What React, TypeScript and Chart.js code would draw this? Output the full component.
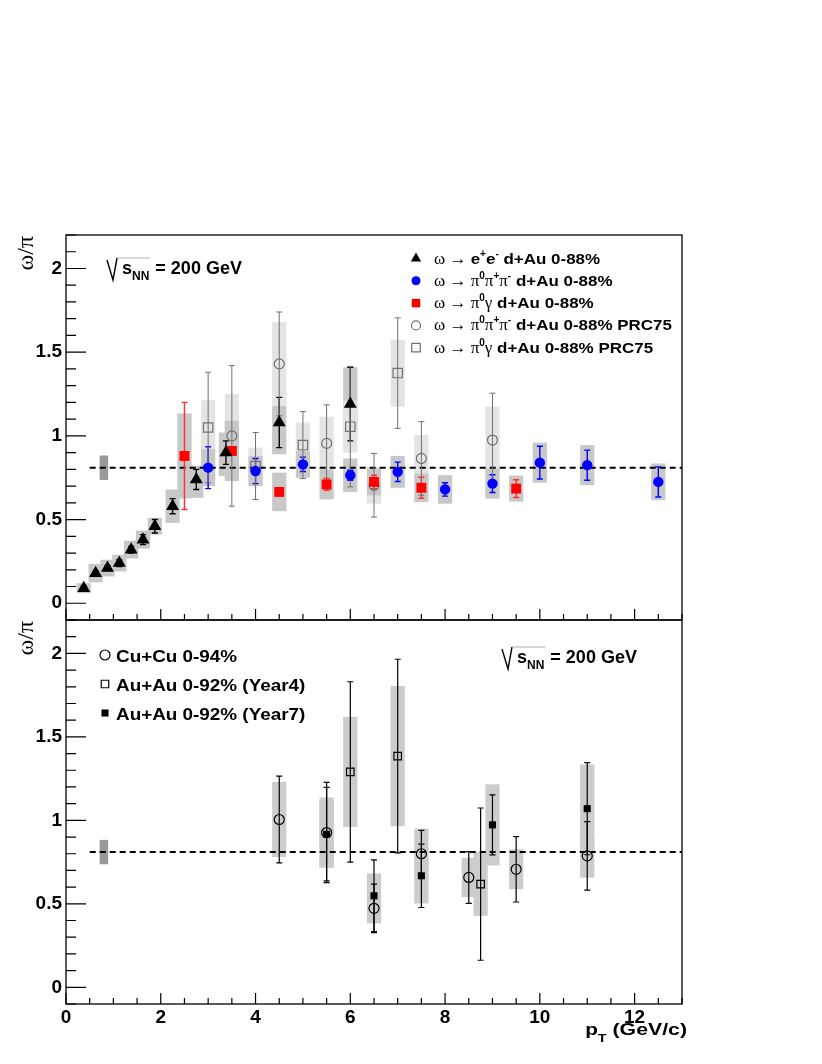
import React, { useEffect, useRef } from "react";
import { Chart, registerables } from "chart.js";

Chart.register(...registerables);

// ---------- top panel: d+Au 0-88% ----------
// omega -> e+e- (black triangles)
const eePt = [0.375, 0.625, 0.875, 1.125, 1.375, 1.625, 1.875, 2.25, 2.75, 3.375, 4.5, 6.0];
const eeRatio = [0.09, 0.18, 0.21, 0.24, 0.32, 0.38, 0.46, 0.58, 0.74, 0.9, 1.08, 1.19];
const eeStat = [0.015, 0.015, 0.015, 0.02, 0.02, 0.03, 0.04, 0.045, 0.06, 0.07, 0.15, 0.22];
const eeSysLo = [0.03, 0.055, 0.05, 0.05, 0.053, 0.054, 0.05, 0.1, 0.11, 0.14, 0.19, 0.2];
const eeSysHi = [0.03, 0.055, 0.05, 0.05, 0.053, 0.054, 0.05, 0.1, 0.08, 0.12, 0.1, 0.22];

// omega -> pi0 pi+ pi- (blue circles)
const pppPt = [3, 4, 5, 6, 7, 8, 9, 10, 11, 12.5];
const pppRatio = [0.81, 0.79, 0.83, 0.765, 0.785, 0.68, 0.715, 0.84, 0.825, 0.725];
const pppStat = [0.125, 0.075, 0.043, 0.03, 0.058, 0.04, 0.053, 0.098, 0.09, 0.09];
const pppSys = [0.11, 0.09, 0.08, 0.1, 0.095, 0.085, 0.09, 0.12, 0.12, 0.11];

// omega -> pi0 gamma (red squares)
const pgPt = [2.5, 3.5, 4.5, 5.5, 6.5, 7.5, 9.5];
const pgRatio = [0.88, 0.91, 0.665, 0.71, 0.725, 0.69, 0.685];
const pgStat = [0.32, 0.02, 0.02, 0.035, 0.04, 0.063, 0.053];
const pgSys = [0.254, 0.18, 0.115, 0.09, 0.08, 0.085, 0.078];

// PRC75 pi0 pi+ pi- (grey open circles)
const pppOldPt = [3.5, 4.5, 5.5, 6.5, 7.5, 9];
const pppOldRatio = [1.0, 1.43, 0.955, 0.705, 0.865, 0.975];
const pppOldStat = [0.42, 0.31, 0.23, 0.19, 0.22, 0.28];
const pppOldSys = [0.25, 0.25, 0.16, 0.11, 0.14, 0.2];

// PRC75 pi0 gamma (grey open squares)
const pgOldPt = [3, 4, 5, 6, 7];
const pgOldRatio = [1.05, 0.82, 0.945, 1.055, 1.375];
const pgOldStat = [0.33, 0.2, 0.2, 0.36, 0.33];
const pgOldSys = [0.163, 0.11, 0.135, 0.155, 0.2];

// ---------- bottom panel: heavy ions ----------
const cuPt = [4.5, 5.5, 6.5, 7.5, 8.5, 9.5, 11];
const cuRatio = [1.005, 0.927, 0.473, 0.8, 0.658, 0.707, 0.787];
const cuStat = [0.26, 0.3, 0.145, 0.14, 0.155, 0.196, 0.205];
const cuSys = [0.225, 0.21, 0.09, 0.15, 0.118, 0.12, 0.13];

const au4Pt = [6, 7, 8.75];
const au4Ratio = [1.29, 1.385, 0.618];
const au4Stat = [0.54, 0.58, 0.456];
const au4Sys = [0.33, 0.42, 0.19];

const au7Pt = [5.5, 6.5, 7.5, 9, 11];
const au7Ratio = [0.917, 0.548, 0.668, 0.973, 1.07];
const au7Stat = [0.28, 0.215, 0.19, 0.18, 0.276];
const au7Sys = [0.2, 0.134, 0.166, 0.243, 0.265];

// reference level and its normalisation uncertainty
const refRatio = 0.81;
const refStartPt = 0.5;
const normPt = 0.8;
const normErr = 0.073;

// axes
const xTickValues = [0, 2, 4, 6, 8, 10, 12];
const yTickValues = [0, 0.5, 1, 1.5, 2];
const xRange = [0, 13];
const yRange = [-0.1, 2.2];

const SANS = '"Liberation Sans", Arial, Helvetica, sans-serif';
const SERIF = '"Liberation Serif", "DejaVu Serif", serif';
const BOX_HW = 0.15;
const DARK_BOX = "#c8c8c8";
const LIGHT_BOX = "#e4e4e4";
const BOTTOM_BOX = "#cccccc";
const GREY = "#707070";

function series(
  label: string,
  pts: number[],
  vals: number[],
  stat: number[],
  sysLo: number[],
  sysHi: number[],
  look: any
) {
  return {
    label,
    data: pts.map((x, i) => ({ x, y: vals[i] })),
    stat,
    sysLo,
    sysHi,
    showLine: false,
    ...look,
  };
}

function drawUnder(chart: any) {
  const { ctx, chartArea: a } = chart;
  const xs = chart.scales.x;
  const ys = chart.scales.y;
  ctx.save();
  ctx.beginPath();
  ctx.rect(a.left, a.top, a.right - a.left, a.bottom - a.top);
  ctx.clip();

  // systematic boxes, layered
  const sets = chart.data.datasets.slice().sort((p: any, q: any) => p.boxLayer - q.boxLayer);
  sets.forEach((ds: any) => {
    ctx.fillStyle = ds.boxFill;
    ds.data.forEach((p: any, i: number) => {
      const l = xs.getPixelForValue(p.x - BOX_HW);
      const r = xs.getPixelForValue(p.x + BOX_HW);
      const t = ys.getPixelForValue(p.y + ds.sysHi[i]);
      const b = ys.getPixelForValue(p.y - ds.sysLo[i]);
      ctx.fillRect(l, t, r - l, b - t);
    });
  });

  // normalisation box
  ctx.fillStyle = "#999999";
  {
    const l = xs.getPixelForValue(normPt - 0.09);
    const r = xs.getPixelForValue(normPt + 0.09);
    const t = ys.getPixelForValue(refRatio + normErr);
    const b = ys.getPixelForValue(refRatio - normErr);
    ctx.fillRect(l, t, r - l, b - t);
  }

  // reference line
  ctx.strokeStyle = "#000";
  ctx.lineWidth = 2;
  ctx.setLineDash([6, 4]);
  ctx.beginPath();
  const yr = ys.getPixelForValue(refRatio);
  ctx.moveTo(xs.getPixelForValue(refStartPt), yr);
  ctx.lineTo(a.right, yr);
  ctx.stroke();
  ctx.setLineDash([]);

  // statistical error bars
  chart.data.datasets.forEach((ds: any) => {
    ctx.strokeStyle = ds.errColor;
    ctx.lineWidth = ds.errWidth;
    ctx.beginPath();
    ds.data.forEach((p: any, i: number) => {
      const px = xs.getPixelForValue(p.x);
      const t = ys.getPixelForValue(p.y + ds.stat[i]);
      const b = ys.getPixelForValue(p.y - ds.stat[i]);
      ctx.moveTo(px, t);
      ctx.lineTo(px, b);
      ctx.moveTo(px - 3, t);
      ctx.lineTo(px + 3, t);
      ctx.moveTo(px - 3, b);
      ctx.lineTo(px + 3, b);
    });
    ctx.stroke();
  });
  ctx.restore();
}

function drawFrame(chart: any) {
  const { ctx, chartArea: a } = chart;
  const xs = chart.scales.x;
  const ys = chart.scales.y;
  ctx.save();
  ctx.strokeStyle = "#000";
  ctx.lineWidth = 1.3;
  ctx.strokeRect(a.left, a.top, a.right - a.left, a.bottom - a.top);
  ctx.lineWidth = 1.2;
  ctx.beginPath();
  for (let k = -1; k <= 22; k++) {
    const py = ys.getPixelForValue(k / 10);
    const len = k % 5 === 0 ? 20 : 10;
    ctx.moveTo(a.left, py);
    ctx.lineTo(a.left + len, py);
  }
  for (let k = 0; k <= 26; k++) {
    const px = xs.getPixelForValue(k / 2);
    const len = k % 4 === 0 ? 11 : 6;
    ctx.moveTo(px, a.bottom);
    ctx.lineTo(px, a.bottom - len);
  }
  ctx.stroke();

  // y title
  ctx.save();
  ctx.translate(a.left - 33, a.top + 1);
  ctx.rotate(-Math.PI / 2);
  ctx.font = `24px ${SERIF}`;
  ctx.fillStyle = "#000";
  ctx.textAlign = "right";
  ctx.textBaseline = "alphabetic";
  ctx.fillText("ω/π", 0, 0);
  ctx.restore();
  ctx.restore();
}

type Seg = { t: string; size: number; serif?: boolean; dy?: number; sx?: number };

function drawRich(ctx: CanvasRenderingContext2D, x: number, y: number, segs: Seg[]) {
  let cx = x;
  ctx.textAlign = "left";
  ctx.textBaseline = "alphabetic";
  ctx.fillStyle = "#000";
  for (const s of segs) {
    const sx = s.sx || 1;
    ctx.font = s.serif ? `${s.size}px ${SERIF}` : `bold ${s.size}px ${SANS}`;
    ctx.save();
    ctx.translate(cx, y + (s.dy || 0));
    ctx.scale(sx, 1);
    ctx.fillText(s.t, 0, 0);
    ctx.restore();
    cx += ctx.measureText(s.t).width * sx;
  }
  return cx;
}

function richWidth(ctx: CanvasRenderingContext2D, segs: Seg[]) {
  let w = 0;
  for (const s of segs) {
    ctx.font = s.serif ? `${s.size}px ${SERIF}` : `bold ${s.size}px ${SANS}`;
    w += ctx.measureText(s.t).width * (s.sx || 1);
  }
  return w;
}

function drawSqrtS(ctx: CanvasRenderingContext2D, x: number, b: number) {
  ctx.save();
  ctx.strokeStyle = "#000";
  ctx.lineWidth = 1.4;
  ctx.beginPath();
  ctx.moveTo(x, b - 14);
  ctx.lineTo(x + 6, b + 6);
  ctx.lineTo(x + 10, b - 16);
  ctx.stroke();
  let cx = drawRich(ctx, x + 15, b, [{ t: "s", size: 18 }]);
  cx = drawRich(ctx, cx, b, [{ t: "NN", size: 12, dy: 6 }]);
  ctx.strokeStyle = "#999";
  ctx.lineWidth = 0.8;
  ctx.beginPath();
  ctx.moveTo(x + 10, b - 16);
  ctx.lineTo(cx + 1, b - 16);
  ctx.stroke();
  drawRich(ctx, cx + 1, b, [{ t: " = 200 GeV", size: 18 }]);
  ctx.restore();
}

function drawMarker(
  ctx: CanvasRenderingContext2D,
  style: string,
  x: number,
  y: number,
  r: number,
  fill: string | null,
  stroke: string | null
) {
  ctx.beginPath();
  if (style === "circle") ctx.arc(x, y, r, 0, Math.PI * 2);
  else if (style === "rect") {
    const s = r * Math.SQRT1_2;
    ctx.rect(x - s, y - s, 2 * s, 2 * s);
  } else {
    ctx.moveTo(x, y - r);
    ctx.lineTo(x + r * 0.866, y + r / 2);
    ctx.lineTo(x - r * 0.866, y + r / 2);
    ctx.closePath();
  }
  if (fill) {
    ctx.fillStyle = fill;
    ctx.fill();
  }
  if (stroke) {
    ctx.strokeStyle = stroke;
    ctx.lineWidth = 1.2;
    ctx.stroke();
  }
}

const sym = (t: string): Seg => ({ t, size: 17, serif: true });
const txt = (t: string): Seg => ({ t, size: 14.5, sx: 1.17 });
const sup = (t: string): Seg => ({ t, size: 10, dy: -7 });
const arrow = sym("ω → ");
const threePi = [sym("π"), sup("0"), sym("π"), sup("+"), sym("π"), sup("-")];
const piGamma = [sym("π"), sup("0"), sym("γ")];

const topLegend = [
  { style: "triangle", r: 6, fill: "#000", stroke: null, segs: [arrow, txt("e"), sup("+"), txt("e"), sup("-"), txt(" d+Au 0-88%")] },
  { style: "circle", r: 4.5, fill: "#0000ff", stroke: null, segs: [arrow, ...threePi, txt(" d+Au 0-88%")] },
  { style: "rect", r: 6, fill: "#ff0000", stroke: null, segs: [arrow, ...piGamma, txt(" d+Au 0-88%")] },
  { style: "circle", r: 4.5, fill: null, stroke: GREY, segs: [arrow, ...threePi, txt(" d+Au 0-88% PRC75")] },
  { style: "rect", r: 6, fill: null, stroke: GREY, segs: [arrow, ...piGamma, txt(" d+Au 0-88% PRC75")] },
];

const bottomLegend = [
  { style: "circle", r: 5, fill: null, stroke: "#000", label: "Cu+Cu 0-94%" },
  { style: "rect", r: 5.3, fill: null, stroke: "#000", label: "Au+Au 0-92% (Year4)" },
  { style: "rect", r: 5, fill: "#000", stroke: null, label: "Au+Au 0-92% (Year7)" },
];

const topDecor = {
  id: "topDecor",
  beforeDatasetsDraw: (chart: any) => drawUnder(chart),
  afterDraw: (chart: any) => {
    const { ctx, chartArea: a } = chart;
    drawFrame(chart);
    ctx.save();
    drawSqrtS(ctx, a.left + 41, a.top + 39);
    topLegend.forEach((row, i) => {
      const yb = a.top + 28.5 + i * 22.3;
      drawMarker(ctx, row.style, a.left + 350, yb - 5, row.r, row.fill, row.stroke);
      drawRich(ctx, a.left + 368, yb, row.segs);
    });
    ctx.restore();
  },
};

const bottomDecor = {
  id: "bottomDecor",
  beforeDatasetsDraw: (chart: any) => drawUnder(chart),
  afterDraw: (chart: any) => {
    const { ctx, chartArea: a } = chart;
    drawFrame(chart);
    ctx.save();
    drawSqrtS(ctx, a.left + 436, a.top + 43);
    bottomLegend.forEach((row, i) => {
      const yb = a.top + 41.5 + i * 29;
      drawMarker(ctx, row.style, a.left + 39, yb - 6.5, row.r, row.fill, row.stroke);
      drawRich(ctx, a.left + 50, yb, [{ t: row.label, size: 17, sx: 1.11 }]);
    });
    // x title
    const title: Seg[] = [
      { t: "p", size: 16, sx: 1.3 },
      { t: "T", size: 11, dy: 7, sx: 1.3 },
      { t: " (GeV/c)", size: 16, sx: 1.33 },
    ];
    const w = richWidth(ctx, title);
    drawRich(ctx, a.right + 5 - w, a.bottom + 31, title);
    ctx.restore();
  },
};

function baseOptions(padTop: number, xHeight: number, showXLabels: boolean): any {
  const tickFont = { family: SANS, size: 19, weight: "bold" };
  return {
    animation: false,
    responsive: false,
    events: [],
    layout: { padding: { left: 0, right: 140, top: padTop, bottom: 0 } },
    plugins: { legend: { display: false }, tooltip: { enabled: false } },
    scales: {
      x: {
        type: "linear",
        min: xRange[0],
        max: xRange[1],
        grid: { display: false, drawTicks: false },
        border: { display: false },
        afterBuildTicks: (s: any) => {
          s.ticks = xTickValues.map((v) => ({ value: v }));
        },
        ticks: {
          display: showXLabels,
          padding: 2,
          maxRotation: 0,
          color: "#000",
          font: tickFont,
          callback: (v: any) => String(v),
        },
        afterFit: (s: any) => {
          s.height = xHeight;
        },
      },
      y: {
        type: "linear",
        min: yRange[0],
        max: yRange[1],
        grid: { display: false, drawTicks: false },
        border: { display: false },
        afterBuildTicks: (s: any) => {
          s.ticks = yTickValues.map((v) => ({ value: v }));
        },
        ticks: {
          padding: 4,
          color: "#000",
          font: tickFont,
          callback: (v: any) => String(v),
        },
        afterFit: (s: any) => {
          s.width = 66;
        },
      },
    },
  };
}

function topConfig(): any {
  return {
    type: "scatter",
    data: {
      datasets: [
        series("ω → e+e- d+Au 0-88%", eePt, eeRatio, eeStat, eeSysLo, eeSysHi, {
          pointStyle: "triangle", pointRadius: 7.5, backgroundColor: "#000", borderColor: "#000", borderWidth: 0,
          errColor: "#000", errWidth: 1.4, boxFill: DARK_BOX, boxLayer: 0,
        }),
        series("ω → π0π+π- d+Au 0-88%", pppPt, pppRatio, pppStat, pppSys, pppSys, {
          pointStyle: "circle", pointRadius: 5.2, backgroundColor: "#0000ff", borderColor: "#0000ff", borderWidth: 0,
          errColor: "#0000ff", errWidth: 1.4, boxFill: DARK_BOX, boxLayer: 2,
        }),
        series("ω → π0γ d+Au 0-88%", pgPt, pgRatio, pgStat, pgSys, pgSys, {
          pointStyle: "rect", pointRadius: 7, backgroundColor: "#ff0000", borderColor: "#ff0000", borderWidth: 0,
          errColor: "#ff3030", errWidth: 1.4, boxFill: DARK_BOX, boxLayer: 2,
        }),
        series("ω → π0π+π- d+Au 0-88% PRC75", pppOldPt, pppOldRatio, pppOldStat, pppOldSys, pppOldSys, {
          pointStyle: "circle", pointRadius: 5, backgroundColor: "rgba(0,0,0,0)", borderColor: GREY, borderWidth: 1.2,
          errColor: GREY, errWidth: 1, boxFill: LIGHT_BOX, boxLayer: 1,
        }),
        series("ω → π0γ d+Au 0-88% PRC75", pgOldPt, pgOldRatio, pgOldStat, pgOldSys, pgOldSys, {
          pointStyle: "rect", pointRadius: 6.6, backgroundColor: "rgba(0,0,0,0)", borderColor: GREY, borderWidth: 1.2,
          errColor: GREY, errWidth: 1, boxFill: LIGHT_BOX, boxLayer: 1,
        }),
      ],
    },
    options: baseOptions(235, 20, false),
    plugins: [topDecor],
  };
}

function bottomConfig(): any {
  return {
    type: "scatter",
    data: {
      datasets: [
        series("Au+Au 0-92% (Year7)", au7Pt, au7Ratio, au7Stat, au7Sys, au7Sys, {
          pointStyle: "rect", pointRadius: 5, backgroundColor: "#000", borderColor: "#000", borderWidth: 0,
          errColor: "#000", errWidth: 1.2, boxFill: BOTTOM_BOX, boxLayer: 0,
        }),
        series("Au+Au 0-92% (Year4)", au4Pt, au4Ratio, au4Stat, au4Sys, au4Sys, {
          pointStyle: "rect", pointRadius: 5.3, backgroundColor: "rgba(0,0,0,0)", borderColor: "#000", borderWidth: 1.2,
          errColor: "#000", errWidth: 1.2, boxFill: BOTTOM_BOX, boxLayer: 0,
        }),
        series("Cu+Cu 0-94%", cuPt, cuRatio, cuStat, cuSys, cuSys, {
          pointStyle: "circle", pointRadius: 5, backgroundColor: "rgba(0,0,0,0)", borderColor: "#000", borderWidth: 1.2,
          errColor: "#000", errWidth: 1.2, boxFill: BOTTOM_BOX, boxLayer: 0,
        }),
      ],
    },
    options: baseOptions(20, 60, true),
    plugins: [bottomDecor],
  };
}

export default function App() {
  const topRef = useRef<HTMLCanvasElement | null>(null);
  const botRef = useRef<HTMLCanvasElement | null>(null);

  useEffect(() => {
    if (!topRef.current || !botRef.current) return;
    const topChart = new Chart(topRef.current, topConfig());
    const botChart = new Chart(botRef.current, bottomConfig());
    return () => {
      topChart.destroy();
      botChart.destroy();
    };
  }, []);

  return (
    <div style={{ position: "absolute", left: 0, top: 0, width: 822, height: 1064, background: "#fff" }}>
      <canvas ref={topRef} width={822} height={640} style={{ position: "absolute", left: 0, top: 0 }} />
      <canvas ref={botRef} width={822} height={464} style={{ position: "absolute", left: 0, top: 600 }} />
    </div>
  );
}
